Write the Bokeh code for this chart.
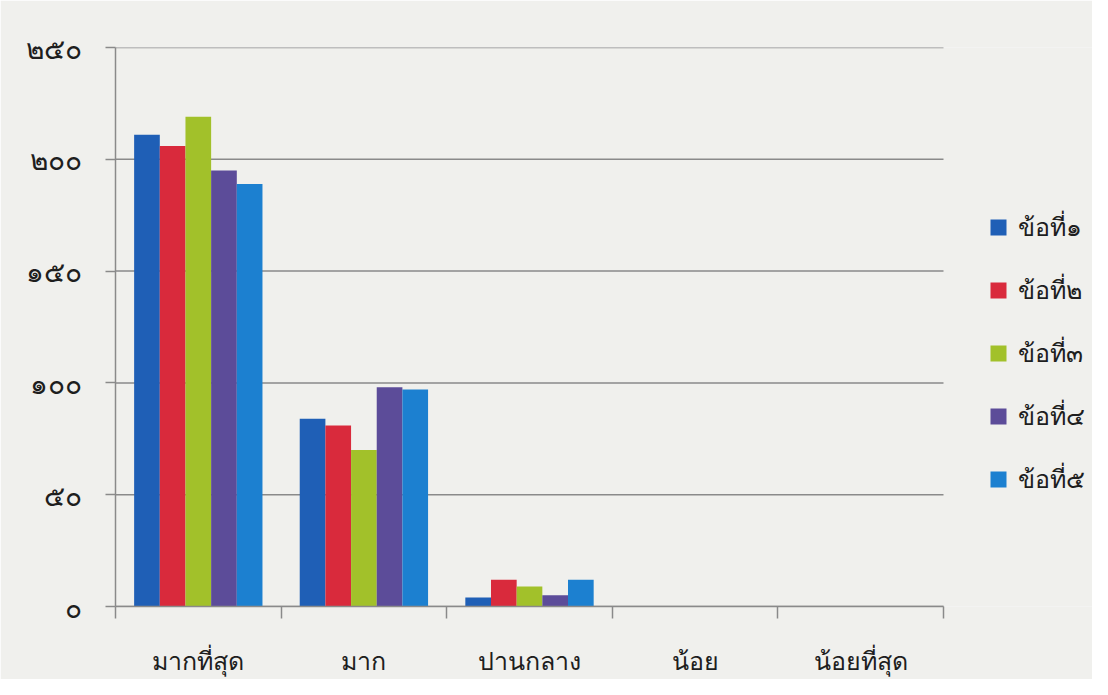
from bokeh.plotting import figure
from bokeh.models import (ColumnDataSource, Range1d, FixedTicker, LinearAxis,
                          Legend, LegendItem)
from bokeh.transform import dodge
from bokeh.embed import file_html
from bokeh.resources import INLINE

# ---- data ----
categories = ["มากที่สุด", "มาก", "ปานกลาง", "น้อย", "น้อยที่สุด"]
series_names = ["ข้อที่๑", "ข้อที่๒", "ข้อที่๓", "ข้อที่๔", "ข้อที่๕"]
s1 = [211, 84, 4, 0, 0]
s2 = [206, 81, 12, 0, 0]
s3 = [219, 70, 9, 0, 0]
s4 = [195, 98, 5, 0, 0]
s5 = [189, 97, 12, 0, 0]
y_ticks = [0, 50, 100, 150, 200, 250]
y_tick_labels = ["๐", "๕๐", "๑๐๐", "๑๕๐", "๒๐๐", "๒๕๐"]

colors = ["#1f5fb6", "#d92a3c", "#a2c12a", "#5c4c99", "#1c80d0"]
series = [s1, s2, s3, s4, s5]

FONT = "Noto Sans"
TEXT = "#1e1e1e"
GRID = "#8a8a8a"
BG = "#f0f0ed"

W, H = 1092, 679
LEFT, TOP, BOTTOM = 115, 47, 72
PLOT_W = 828                      # pixel width of the category area
frame_w = W - LEFT
n = len(categories)
x_end = n * frame_w / PLOT_W      # extra room on the right for the legend

centers = [i + 0.5 for i in range(n)]
data = {"x": centers}
for k, s in enumerate(series):
    data[f"s{k}"] = s
src = ColumnDataSource(data)

p = figure(width=W, height=H, output_backend="svg", toolbar_location=None,
           x_range=Range1d(0, x_end), y_range=Range1d(0, 250),
           x_axis_location=None, y_axis_location=None,
           min_border_left=LEFT, min_border_right=0,
           min_border_top=TOP, min_border_bottom=BOTTOM)
p.background_fill_color = BG
p.border_fill_color = BG
p.outline_line_color = None
p.xgrid.visible = False
p.ygrid.visible = False

# horizontal gridlines limited to the category area
grid_src = ColumnDataSource({"y": y_ticks, "x0": [0] * len(y_ticks),
                             "x1": [n] * len(y_ticks)})
p.segment(x0="x0", x1="x1", y0="y", y1="y", source=grid_src,
          line_color=GRID, line_width=1.5)

bar_w = 0.155
renderers = []
for k, s in enumerate(series):
    off = (k - 2) * bar_w
    r = p.vbar(x=dodge("x", off, range=p.x_range), top=f"s{k}", width=bar_w,
               source=src, fill_color=colors[k], line_color=None)
    renderers.append(r)

# y axis
yax = LinearAxis(ticker=FixedTicker(ticks=y_ticks),
                 major_label_overrides={t: l for t, l in zip(y_ticks, y_tick_labels)})
yax.axis_line_color = GRID
yax.axis_line_width = 1.5
yax.major_tick_line_color = GRID
yax.major_tick_line_width = 1.5
yax.major_tick_in = 0
yax.major_tick_out = 10
yax.minor_tick_line_color = None
yax.major_label_standoff = 24
yax.major_label_text_font = FONT
yax.major_label_text_font_size = "28px"
yax.major_label_text_color = TEXT
p.add_layout(yax, "left")

# x axis: labels at centres, boundary ticks as minor ticks
xax = LinearAxis(ticker=FixedTicker(ticks=centers, minor_ticks=list(range(n + 1))),
                 major_label_overrides={c: l for c, l in zip(centers, categories)},
                 bounds=(0, n))
xax.axis_line_color = GRID
xax.axis_line_width = 1.5
xax.major_tick_line_color = None
xax.major_tick_in = 0
xax.major_tick_out = 0
xax.minor_tick_line_color = GRID
xax.minor_tick_line_width = 1.5
xax.minor_tick_in = 0
xax.minor_tick_out = 12
xax.major_label_standoff = 24
xax.major_label_text_font = FONT
xax.major_label_text_font_size = "25px"
xax.major_label_text_color = TEXT
p.add_layout(xax, "below")

legend = Legend(items=[LegendItem(label=nm, renderers=[r]) for nm, r in zip(series_names, renderers)],
                location=(873, 107), padding=0, margin=0, spacing=23,
                glyph_width=20, glyph_height=20, label_standoff=10,
                label_text_font=FONT, label_text_font_size="25px",
                label_text_color=TEXT, background_fill_alpha=0,
                border_line_color=None)
p.add_layout(legend, "center")

open("out.html", "w").write(file_html(p, INLINE))
